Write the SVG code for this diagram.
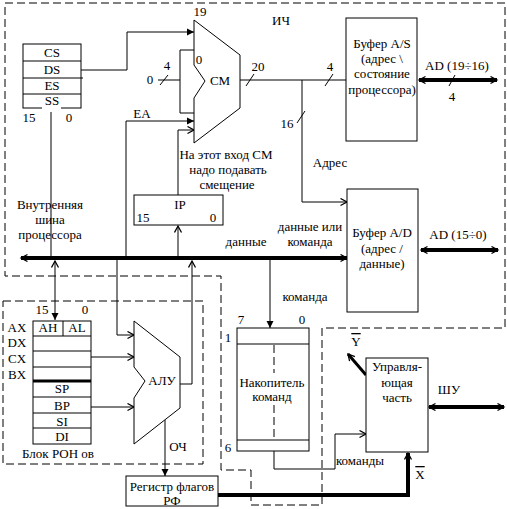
<svg xmlns="http://www.w3.org/2000/svg" width="507" height="509" viewBox="0 0 507 509" font-family="'Liberation Serif', 'Times New Roman', serif">
<defs>
<style>
text{font-family:'Liberation Serif','Times New Roman',serif;font-size:13px;fill:#000;text-anchor:middle}
.ln{stroke:#000;stroke-width:1;fill:none}
.tk{stroke:#000;stroke-width:4;fill:none}
.dash{stroke:#000;stroke-width:1;fill:none;stroke-dasharray:8 4}
.box{stroke:#000;stroke-width:1;fill:#fff}
.ov{text-decoration:overline}
</style>
<marker id="af" markerWidth="9" markerHeight="9" refX="7" refY="4" orient="auto" markerUnits="userSpaceOnUse"><path d="M0,0.5 L7,4 L0,7.5 z" fill="#000"/></marker>
<marker id="ao" markerWidth="9" markerHeight="9" refX="7" refY="4" orient="auto-start-reverse" markerUnits="userSpaceOnUse"><path d="M0.5,0.5 L7,4 L0.5,7.5" fill="none" stroke="#000" stroke-width="1.3"/></marker>
</defs>
<rect width="507" height="509" fill="#fff"/>

<g id="regions">
<path class="dash" d="M5,3 H505 V328 H322 V505 H251 V470 H221 V276 H5 Z"/>
<path class="dash" d="M3,301 H203 V464 H3 Z"/>
<text x="281" y="25">ИЧ</text>
<text x="178" y="451">ОЧ</text>
</g>

<g id="connectors">
<path class="ln" d="M81,70 H127 V32 H194" marker-end="url(#af)"/>
<path class="ln" d="M194,50 H180 V113 H194"/>
<path class="ln" d="M158,80 H180"/>
<path class="ln" d="M160,85 L168,75"/>
<path class="ln" d="M126,258 V121 H194" marker-end="url(#af)"/>
<path class="ln" d="M178,195 V130 H194" marker-end="url(#ao)"/>
<path class="ln" d="M178,256 V226" marker-end="url(#ao)"/>
<path class="ln" d="M240,80 H346"/>
<path class="ln" d="M246,86 L254,74"/>
<path class="ln" d="M325,86 L333,74"/>
<path class="ln" d="M302,80 V202 H347" marker-end="url(#ao)"/>
<path class="ln" d="M297,123 L305,111"/>
<path class="tk" d="M419,80 H497" marker-start="url(#ao)" marker-end="url(#ao)"/>
<path class="ln" d="M449,86 L455,75"/>
<path class="tk" d="M421,250 H498" marker-start="url(#ao)" marker-end="url(#ao)"/>
<path class="tk" d="M21,258 H347" marker-start="url(#ao)" marker-end="url(#ao)"/>
<path class="ln" d="M51,112 V256"/>
<path class="ln" d="M55,261 V320" marker-start="url(#ao)" marker-end="url(#af)"/>
<path class="ln" d="M117,260 V335 H134" marker-end="url(#ao)"/>
<path class="ln" d="M91,357 H134" marker-end="url(#ao)"/>
<path class="ln" d="M91,407 H134" marker-end="url(#ao)"/>
<path class="ln" d="M180,384 H192 V261" marker-end="url(#ao)"/>
<path class="ln" d="M165,420 V476" marker-end="url(#af)"/>
<path class="ln" d="M270,260 V328" marker-end="url(#af)"/>
<path class="ln" d="M274,451 V469 H335 V434 H366" marker-end="url(#ao)"/>
<path class="tk" d="M218,495 H408 V453" marker-end="url(#ao)"/>
<path stroke="#000" stroke-width="3" fill="none" d="M366,375 L348,354" marker-end="url(#ao)"/>
<path class="tk" d="M429,407 H504" marker-start="url(#ao)" marker-end="url(#ao)"/>
<text x="200" y="16">19</text>
<text x="150" y="84">0</text>
<text x="167" y="70">4</text>
<text x="258" y="71">20</text>
<text x="330" y="71">4</text>
<text x="142" y="118">EA</text>
<text x="457" y="70">AD (19÷16)</text>
<text x="452" y="101">4</text>
<text x="287" y="128">16</text>
<text x="330" y="167">Адрес</text>
<text x="226" y="159">На этот вход СМ</text>
<text x="228" y="174">надо подавать</text>
<text x="227" y="189">смещение</text>
<text x="50" y="209">Внутренняя</text>
<text x="50" y="224">шина</text>
<text x="50" y="239">процессора</text>
<text x="246" y="246">данные</text>
<text x="310" y="231">данные или</text>
<text x="310" y="246">команда</text>
<text x="458" y="239">AD (15÷0)</text>
<text x="305" y="301">команда</text>
<text x="360" y="465">команды</text>
<text x="356" y="346" class="ov">Y</text>
<text x="420" y="479" class="ov">X</text>
<text x="449" y="394">ШУ</text>
</g>

<g id="segregs">
<rect class="box" x="23" y="44" width="58" height="64"/>
<path class="ln" d="M23,61 H81 M23,78 H83 M23,94 H81"/>
<path stroke="#fff" stroke-width="2" d="M42,108 H61"/>
<text x="52" y="57">CS</text>
<text x="52" y="74">DS</text>
<text x="52" y="90">ES</text>
<text x="52" y="105">SS</text>
<text x="29" y="122">15</text>
<text x="69" y="122">0</text>
</g>

<g id="mux">
<path class="box" d="M194,20 L240,55 L240,108 L194,143 L194,98 L205,81 L194,65 Z"/>
<text x="199" y="64">0</text>
<text x="220" y="85">CM</text>
</g>

<g id="bufAS">
<rect class="box" x="346" y="18" width="71" height="123"/>
<text x="382" y="48">Буфер A/S</text>
<text x="382" y="63">(адрес \</text>
<text x="382" y="78">состояние</text>
<text x="382" y="94">процессора)</text>
</g>

<g id="bufAD">
<rect class="box" x="347" y="189" width="71" height="123"/>
<text x="382" y="237">Буфер A/D</text>
<text x="382" y="253">(адрес /</text>
<text x="382" y="268">данные)</text>
</g>

<g id="ip">
<rect class="box" x="134" y="195" width="89" height="30"/>
<text x="180" y="209">IP</text>
<text x="143" y="222">15</text>
<text x="213" y="222">0</text>
</g>

<g id="ron">
<rect class="box" x="33" y="321" width="58" height="123"/>
<path class="ln" d="M63,321 V336 M33,336 H91 M33,351 H91 M33,367 H91 M33,397 H91 M33,413 H91 M33,428 H91"/>
<path stroke="#000" stroke-width="3" d="M33,381 H91"/>
<text x="42" y="314">15</text>
<text x="85" y="314">0</text>
<text x="17" y="332">AX</text>
<text x="17" y="347">DX</text>
<text x="17" y="363">CX</text>
<text x="17" y="379">BX</text>
<text x="48" y="332">AH</text>
<text x="77" y="332">AL</text>
<text x="62" y="393">SP</text>
<text x="62" y="410">BP</text>
<text x="62" y="426">SI</text>
<text x="62" y="441">DI</text>
<text x="58" y="458">Блок РОН ов</text>
</g>

<g id="alu">
<path class="box" d="M134,321 L180,357 L180,408 L134,444 L134,398 L145,381 L134,367 Z"/>
<text x="162" y="385">АЛУ</text>
</g>

<g id="flags">
<rect class="box" x="126" y="476" width="92" height="30"/>
<text x="172" y="491">Регистр флагов</text>
<text x="172" y="505">РФ</text>
</g>

<g id="queue">
<rect class="box" x="237" y="328" width="72" height="123"/>
<path class="ln" d="M237,344 H309 M237,440 H309"/>
<path class="dash" d="M274,345 V373 M274,405 V440"/>
<text x="241" y="324">7</text>
<text x="302" y="324">0</text>
<text x="228" y="342">1</text>
<text x="228" y="452">6</text>
<text x="272" y="387">Накопитель</text>
<text x="272" y="401">команд</text>
</g>

<g id="control">
<rect class="box" x="366" y="358" width="62" height="94"/>
<text x="397" y="371">Управля-</text>
<text x="397" y="387">ющая</text>
<text x="397" y="402">часть</text>
</g>
</svg>
